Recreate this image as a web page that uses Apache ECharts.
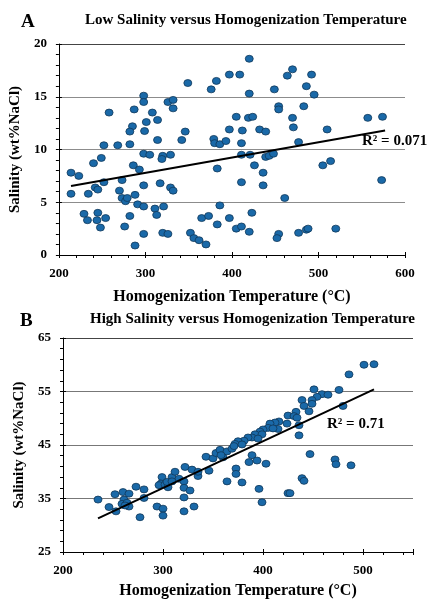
<!DOCTYPE html>
<html>
<head>
<meta charset="utf-8">
<script src="https://cdn.jsdelivr.net/npm/echarts@6/dist/echarts.min.js"></script>
<style>html,body{margin:0;padding:0;background:#fff}#c{width:431px;height:600px}</style>
</head>
<body>
<div id="c"></div>
<script>
// ---------- Data: Chart A (low salinity) ----------
const tempA = [252,268,282,258,287,298,298,308,314,301,285,282,299,314,326,332,332,346,342,349,376,382,397,409,405,397,412,379,380,386,393,411,
  420,420,449,464,470,492,486,495,419,424,454,454,483,470,471,432,439,510,477,557,574,
  298,305,320,319,329,249,240,214,223,286,293,273,252,242,245,270,298,317,329,332,214,234,288,273,277,279,291,298,311,313,321,229,233,245,244,254,248,282,276,298,320,326,288,352,356,362,370,365,373,383,386,383,397,405,411,411,411,
  421,439,443,448,426,436,436,461,505,514,573,423,420,454,452,477,486,488,520];
const salA = [10.4,10.4,10.5,13.5,13.8,15.1,14.5,13.5,12.8,12.6,12.2,11.7,11.75,10.9,14.5,14.7,13.9,11.7,10.9,16.3,15.7,16.5,17.1,17.1,13.1,11.9,11.8,11.0,10.6,10.5,10.8,10.6,
  18.6,15.3,15.7,17.0,17.6,17.1,16.0,15.2,13.0,13.1,14.1,13.8,14.1,13.0,12.1,11.9,11.7,11.9,10.7,13.0,13.1,
  9.6,9.5,9.4,9.1,9.5,9.2,8.7,7.8,7.5,8.5,8.1,7.1,6.9,6.4,6.2,6.1,6.6,6.8,6.4,6.1,5.8,5.8,5.7,5.4,5.1,5.4,4.8,4.6,4.4,3.8,4.6,3.9,3.3,4.0,3.3,3.5,2.6,3.7,2.7,2.0,2.1,2.0,0.9,2.1,1.6,1.4,1.0,3.5,3.7,2.9,4.7,8.2,3.5,2.5,2.7,6.9,9.5,
  9.5,9.3,9.4,9.6,8.5,7.8,6.6,5.4,8.5,8.9,7.1,4.0,2.2,2.0,1.6,2.1,2.4,2.5,2.5];
const trendA_T = [214, 577];
const trendA_S = [6.54, 11.8];
const r2A = 'R² = 0.071';
const xLabelsA = [200, 300, 400, 500, 600];
const yLabelsA = [0, 5, 10, 15, 20];

// ---------- Data: Chart B (high salinity) ----------
const tempB = [511,501,486,451,476,459,465,454,449,439,441,449,446,480,433,425,431,434,436,436,424,416,412,407,405,415,410,400,397,392,389,399,385,381,375,372,395,
  235,246,253,252,260,266,261,259,264,266,262,273,281,281,277,294,300,300,299,298,296,302,305,304,309,312,316,309,321,321,322,329,327,321,321,331,335,335,343,346,350,353,357,360,364,358,369,371,379,364,373,373,379,
  389,386,394,403,396,399,425,427,439,441,447,472,473,488];
const salB = [60.1,60.0,58.2,55.4,55.3,54.5,54.4,54.0,53.4,53.4,52.3,52.7,51.3,52.3,51.2,50.5,50.4,50.1,48.7,46.8,49.0,49.4,49.2,49.0,48.2,48.0,48.1,47.9,47.5,47.0,46.4,47.0,46.4,45.8,45.7,45.2,46.2,
  34.8,33.4,32.6,35.8,36.2,35.9,34.8,34.0,34.2,33.5,33.7,37.2,36.7,35.1,31.5,33.5,33.1,31.8,39.0,37.8,37.5,37.6,37.1,38.1,39.0,40.0,38.7,38.2,38.2,37.0,40.9,40.4,36.5,35.2,32.6,33.5,39.2,40.0,42.8,40.2,42.5,43.5,44.1,42.7,43.8,43.1,44.3,44.8,45.1,38.2,40.6,39.6,38.0,
  43.1,41.8,42.1,41.5,36.8,34.3,36.0,36.0,38.8,38.3,43.3,42.3,41.4,41.2];
const trendB_T = [235, 511];
const trendB_S = [31.3, 55.4];
const r2B = 'R² = 0.71';
const xLabelsB = [200, 300, 400, 500];
const yLabelsB = [25, 35, 45, 55, 65];

// ---------- Styling / build ----------
const F = "'Liberation Serif','Times New Roman',serif";
const pairs = (a, b) => a.map((v, i) => [v, b[i]]);

function xAxes(grid, min, max, minor, major, labels, name, nameGap) {
  return [{
    type: 'value', gridIndex: grid, position: 'bottom', min, max, interval: minor,
    axisLine: { show: true, onZero: false, lineStyle: { color: '#000', width: 1 } },
    axisTick: { show: true, length: 3, lineStyle: { color: '#000' } },
    axisLabel: { formatter: v => labels.includes(v) ? String(v) : '', margin: 12, fontFamily: F, fontWeight: 'bold', fontSize: 13, color: '#000', showMaxLabel: true },
    splitLine: { show: false },
    name, nameLocation: 'middle', nameGap,
    nameTextStyle: { fontFamily: F, fontWeight: 'bold', fontSize: 16, color: '#000' }
  }, {
    type: 'value', gridIndex: grid, position: 'bottom', min, max, interval: major,
    axisLine: { show: false },
    axisTick: { show: true, inside: true, length: 3, lineStyle: { color: '#000' } },
    axisLabel: { show: false }, splitLine: { show: false }
  }];
}
function yAxes(grid, min, max, minor, major, labels, name, nameGap, gridColors) {
  return [{
    type: 'value', gridIndex: grid, position: 'left', min, max, interval: minor,
    axisLine: { show: true, onZero: false, lineStyle: { color: '#000', width: 1 } },
    axisTick: { show: true, length: 3, lineStyle: { color: '#000' } },
    axisLabel: { formatter: v => labels.includes(v) ? String(v) : '', margin: 12, fontFamily: F, fontWeight: 'bold', fontSize: 13, color: '#000' },
    splitLine: { show: false },
    name, nameLocation: 'middle', nameGap,
    nameTextStyle: { fontFamily: F, fontWeight: 'bold', fontSize: 15, color: '#000' }
  }, {
    type: 'value', gridIndex: grid, position: 'left', min, max, interval: major,
    axisLine: { show: false },
    axisTick: { show: true, inside: true, length: 3, lineStyle: { color: '#000' } },
    axisLabel: { show: false },
    splitLine: { show: true, showMinLine: true, showMaxLine: true, lineStyle: { color: gridColors, width: 1 } }
  }];
}

const markerStyle = { color: '#1a69a8', borderColor: '#10385a', borderWidth: 0.8, opacity: 1 };

const option = {
  animation: false,
  backgroundColor: '#fff',
  title: [
    { text: 'A', left: 21, top: 13, padding: 0, textStyle: { fontFamily: F, fontWeight: 'bold', fontSize: 19, color: '#000' } },
    { text: 'Low Salinity versus Homogenization Temperature', left: 85, top: 13, padding: 0, textStyle: { fontFamily: F, fontWeight: 'bold', fontSize: 15, color: '#000' } },
    { text: 'B', left: 20, top: 312, padding: 0, textStyle: { fontFamily: F, fontWeight: 'bold', fontSize: 19, color: '#000' } },
    { text: 'High Salinity versus Homogenization Temperature', left: 90, top: 312, padding: 0, textStyle: { fontFamily: F, fontWeight: 'bold', fontSize: 15, color: '#000' } }
  ],
  grid: [
    { left: 58, top: 44, width: 347, height: 211 },
    { left: 63, top: 338, width: 350, height: 215 }
  ],
  xAxis: [
    ...xAxes(0, xLabelsA[0], xLabelsA[xLabelsA.length - 1], 20, 100, xLabelsA, 'Homogenization Temperature (°C)', 34),
    ...xAxes(1, xLabelsB[0], 550, 20, 100, xLabelsB, 'Homogenization Temperature (°C)', 31)
  ],
  yAxis: [
    ...yAxes(0, yLabelsA[0], yLabelsA[yLabelsA.length - 1], 1, 5, yLabelsA, 'Salinity (wt%NaCl)', 29, ['rgba(0,0,0,0)', '#8c8c8c', '#8c8c8c', '#8c8c8c', '#444']),
    ...yAxes(1, yLabelsB[0], yLabelsB[yLabelsB.length - 1], 2, 10, yLabelsB, 'Salinity (wt%NaCl)', 34, ['rgba(0,0,0,0)', '#777', '#777', '#777', '#444'])
  ],
  series: [
    { type: 'scatter', xAxisIndex: 0, yAxisIndex: 0, data: pairs(tempA, salA), symbol: 'circle', symbolSize: [8, 7], itemStyle: markerStyle, z: 3 },
    { type: 'line', xAxisIndex: 0, yAxisIndex: 0, data: pairs(trendA_T, trendA_S), symbol: 'none', lineStyle: { color: '#000', width: 2 }, z: 4 },
    { type: 'scatter', xAxisIndex: 2, yAxisIndex: 2, data: pairs(tempB, salB), symbol: 'circle', symbolSize: [8, 7], itemStyle: markerStyle, z: 3 },
    { type: 'line', xAxisIndex: 2, yAxisIndex: 2, data: pairs(trendB_T, trendB_S), symbol: 'none', lineStyle: { color: '#000', width: 2 }, z: 4 }
  ],
  graphic: [
    { type: 'text', left: 362, top: 134, z: 10, style: { text: r2A, font: 'bold 15px ' + F, fill: '#000' } },
    { type: 'text', left: 327, top: 417, z: 10, style: { text: r2B, font: 'bold 15px ' + F, fill: '#000' } }
  ]
};

const chart = echarts.init(document.getElementById('c'), null, { renderer: 'canvas' });
chart.setOption(option);
</script>
</body>
</html>
